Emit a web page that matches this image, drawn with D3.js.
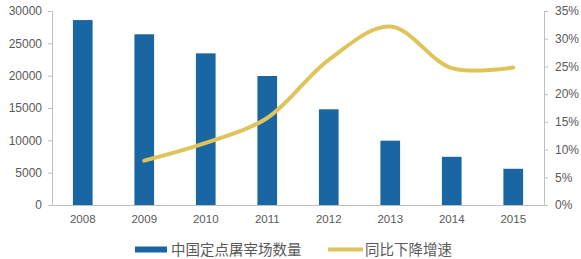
<!DOCTYPE html>
<html>
<head>
<meta charset="utf-8">
<script src="https://cdn.jsdelivr.net/npm/d3@7"></script>
<style>
  body { margin: 0; background: #fff; }
  text { font-family: "Liberation Sans", Arial, sans-serif; }
</style>
</head>
<body>
<svg id="chart" width="581" height="259"></svg>
<script>
// data
let years = ["2008", "2009", "2010", "2011", "2012", "2013", "2014", "2015"]
let slaughterhouses = [28600, 26400, 23450, 19950, 14800, 9950, 7450, 5600]
let lineYears = ["2009", "2010", "2011", "2012", "2013", "2014", "2015"]
let declineRate = [8.0, 11.2, 15.7, 26.2, 32.2, 24.7, 24.8]
let leftTicks = [0, 5000, 10000, 15000, 20000, 25000, 30000]
let rightTicks = [0, 5, 10, 15, 20, 25, 30, 35]
let barName = "中国定点屠宰场数量"
let lineName = "同比下降增速"

let svg = d3.select("#chart")
let plotLeft = 52, plotRight = 544, plotTop = 11, plotBottom = 205
let axisColor = "#bfbfbf"
let labelColor = "#595959"

let x = d3.scaleBand().domain(years).range([plotLeft, plotRight]).paddingInner(0.68).paddingOuter(0.34)
let yL = d3.scaleLinear().domain([0, 30000]).range([plotBottom, plotTop])
let yR = d3.scaleLinear().domain([0, 35]).range([plotBottom, plotTop])

// left axis
let gL = svg.append("g").attr("transform", "translate(" + plotLeft + ",0)")
  .call(d3.axisLeft(yL).tickValues(leftTicks).tickSize(4).tickPadding(6).tickFormat(d3.format("d")))
// right axis
let gR = svg.append("g").attr("transform", "translate(" + plotRight + ",0)")
  .call(d3.axisRight(yR).tickValues(rightTicks).tickSize(4).tickPadding(7).tickFormat(d => d + "%"))
// bottom axis
let gB = svg.append("g").attr("transform", "translate(0," + plotBottom + ")")
  .call(d3.axisBottom(x).tickSize(0).tickPadding(10))

for (let g of [gL, gR, gB]) {
  g.selectAll("path, line").attr("stroke", axisColor)
  g.selectAll("text").attr("fill", labelColor).style("font-size", "12px")
    .style("font-family", "'Liberation Sans', Arial, sans-serif")
}
gB.selectAll("text").style("font-size", "11.5px")

// bars
svg.append("g").selectAll("rect").data(years).join("rect")
  .attr("x", d => x(d))
  .attr("width", x.bandwidth())
  .attr("y", (d, i) => yL(slaughterhouses[i]))
  .attr("height", (d, i) => plotBottom - yL(slaughterhouses[i]))
  .attr("fill", "#1a66a3")

// smoothed line
let line = d3.line()
  .x((d, i) => x(lineYears[i]) + x.bandwidth() / 2)
  .y(d => yR(d))
  .curve(d3.curveCatmullRom.alpha(0.5))
svg.append("path").datum(declineRate)
  .attr("d", line)
  .attr("fill", "none")
  .attr("stroke", "#dfc35b")
  .attr("stroke-width", 4)
  .attr("stroke-linecap", "round")

// legend
let legend = svg.append("g")
legend.append("rect").attr("x", 135).attr("y", 246.5).attr("width", 32).attr("height", 6).attr("fill", "#1a66a3")
legend.append("text").attr("x", 171).attr("y", 254.5).text(barName)
legend.append("rect").attr("x", 328).attr("y", 247.5).attr("width", 35).attr("height", 4).attr("fill", "#dfc35b")
legend.append("text").attr("x", 365).attr("y", 254.5).text(lineName)
legend.selectAll("text")
  .style("font-family", "'Noto Sans CJK SC', sans-serif")
  .style("font-size", "14.5px")
  .attr("fill", labelColor)
</script>
</body>
</html>
